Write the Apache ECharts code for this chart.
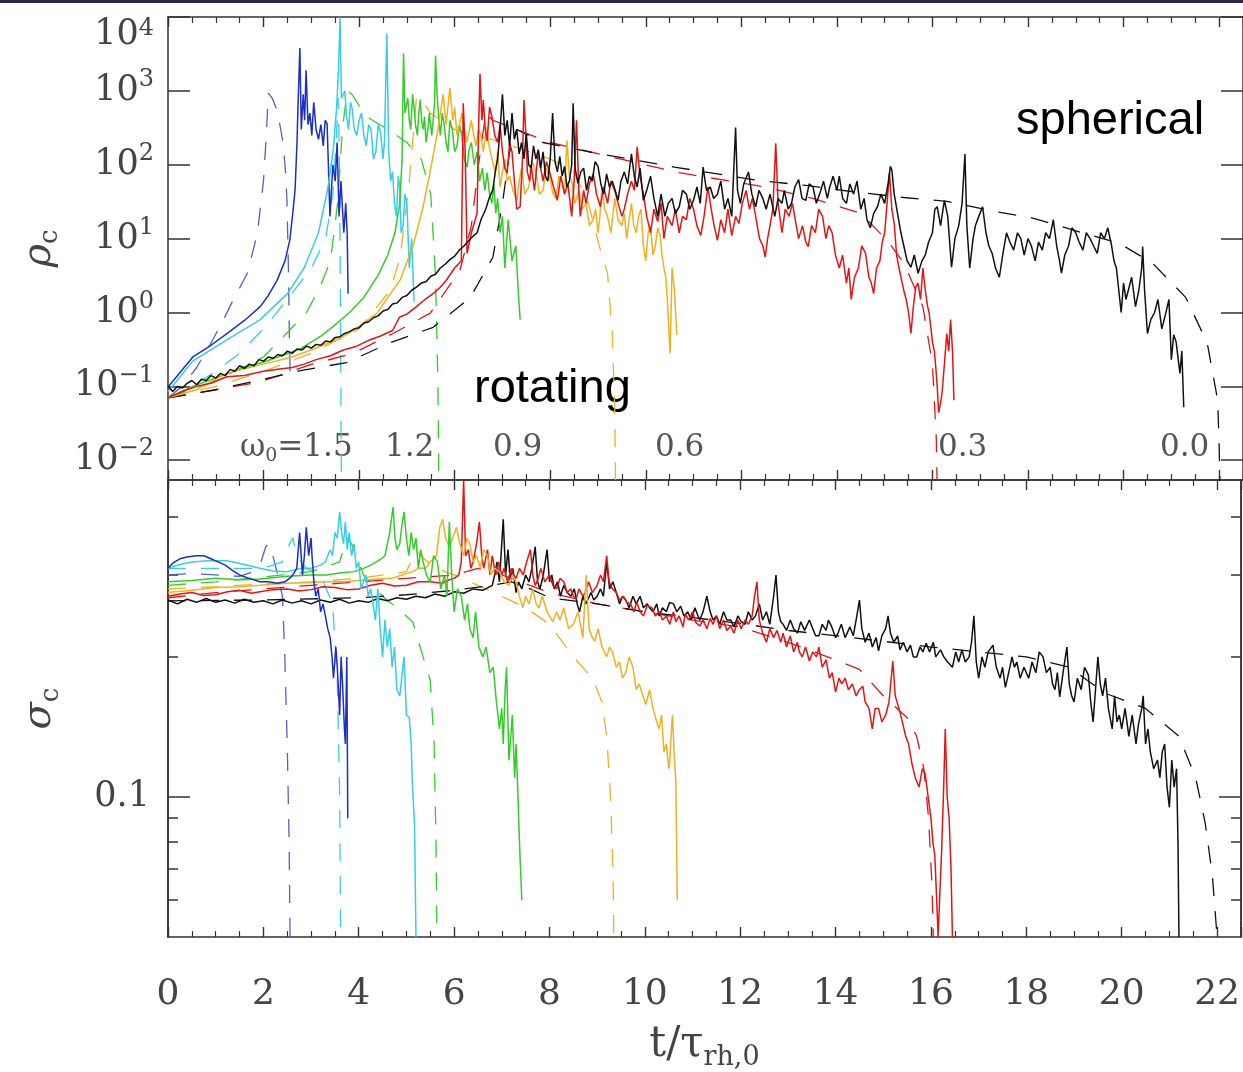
<!DOCTYPE html>
<html><head><meta charset="utf-8">
<script src="https://cdn.jsdelivr.net/npm/echarts@6/dist/echarts.min.js"></script>
<style>html,body{margin:0;padding:0;background:#fff}#c{width:1243px;height:1072px}</style>
</head><body><div id="c"></div>
<script>
// ---------- tick values ----------
const rhoTicks = [0.01, 0.1, 1, 10, 100, 1000, 10000];
const sigmaMajorTicks = [0.1];
const sigmaMinorTicks = [0.06, 0.07, 0.08, 0.09, 0.2, 0.3, 0.4];
const omegaLabels = ['1.5', '1.2', '0.9', '0.6', '0.3', '0.0'];

// ---------- top panel: central density rho_c (t, rho) ----------
const rhoW15 = [[0,0.098],[0.2,0.14],[0.52,0.25],[0.9,0.36],[1.24,0.52],[1.6,0.78],[1.93,1.2],[2.1,1.7],[2.28,2.7],[2.45,5],[2.55,9.6],[2.62,25],[2.66,46],[2.7,200],[2.72,600],[2.76,3800],[2.79,300],[2.83,900],[2.86,400],[2.89,1900],[2.93,350],[2.97,500],[3.01,250],[3.05,700],[3.1,300],[3.15,220],[3.2,350],[3.25,180],[3.29,400],[3.33,360],[3.39,20],[3.45,100],[3.5,60],[3.54,200],[3.58,20],[3.62,60],[3.68,12],[3.72,30],[3.75,12],[3.77,1.8]];
const rhoW15m = [[0,0.07],[0.3,0.1],[0.6,0.18],[0.94,0.43],[1.2,0.9],[1.37,1.5],[1.66,3.4],[1.87,11.7],[2.0,62],[2.06,270],[2.1,930],[2.18,800],[2.28,550],[2.36,300],[2.41,195],[2.46,80],[2.49,33],[2.52,4],[2.54,0.5],[2.56,0.12]];
const rhoW12 = [[0,0.085],[0.52,0.22],[1.24,0.43],[1.93,0.8],[2.5,1.8],[2.85,4],[3.15,12],[3.35,50],[3.46,160],[3.53,600],[3.57,2000],[3.6,10000],[3.63,800],[3.7,1000],[3.74,450],[3.78,300],[3.82,700],[3.85,600],[3.9,300],[3.95,250],[4.0,400],[4.05,500],[4.1,250],[4.15,180],[4.2,350],[4.25,300],[4.3,120],[4.35,150],[4.4,350],[4.45,270],[4.5,120],[4.53,200],[4.58,6000],[4.62,150],[4.66,60],[4.7,80],[4.74,30],[4.78,20],[4.82,70],[4.85,50],[4.88,12],[4.92,15],[4.96,40],[5.0,30],[5.05,4],[5.1,10],[5.15,1.4]];
const rhoW12m = [[0,0.07],[0.5,0.1],[1.0,0.16],[1.5,0.28],[2.0,0.6],[2.53,1.6],[3.0,4],[3.3,10],[3.45,40],[3.52,200],[3.56,800],[3.59,100],[3.61,1],[3.63,0.004]];
const rhoW09 = [[0,0.07],[0.52,0.1],[1.0,0.13],[1.5,0.17],[2.07,0.22],[2.76,0.32],[3.2,0.48],[3.46,0.65],[3.8,1.0],[4.1,1.6],[4.4,3.2],[4.6,6],[4.75,12],[4.85,30],[4.9,120],[4.93,3200],[4.96,500],[5.02,800],[5.05,400],[5.08,300],[5.12,900],[5.15,600],[5.18,350],[5.22,250],[5.25,500],[5.28,760],[5.31,400],[5.34,300],[5.37,450],[5.4,200],[5.44,300],[5.47,500],[5.52,250],[5.55,400],[5.58,700],[5.6,3000],[5.63,930],[5.67,400],[5.7,250],[5.74,500],[5.78,350],[5.82,200],[5.86,150],[5.9,400],[5.95,300],[6.0,150],[6.05,180],[6.1,350],[6.15,250],[6.2,120],[6.26,93],[6.3,160],[6.35,200],[6.41,100],[6.47,150],[6.52,60],[6.58,90],[6.63,45],[6.68,78],[6.73,40],[6.78,30],[6.82,55],[6.86,22],[6.9,35],[6.95,12],[7.0,20],[7.05,4],[7.12,18],[7.2,5],[7.28,8],[7.33,2],[7.37,0.8]];
const rhoW09m = [[0,0.07],[1.0,0.12],[2.0,0.25],[2.55,0.58],[2.9,1.0],[3.18,2.2],[3.4,5],[3.55,30],[3.65,300],[3.75,1000],[3.85,900],[4.15,450],[4.6,300],[5.0,200],[5.3,120],[5.5,40],[5.6,3],[5.65,0.1],[5.67,0.004]];
const rhoW06 = [[0,0.07],[0.6,0.09],[1.23,0.15],[2.0,0.2],[2.6,0.25],[3.1,0.33],[3.67,0.47],[4.0,0.65],[4.38,0.98],[4.6,1.6],[4.86,2.75],[5.13,8],[5.34,27],[5.5,90],[5.65,300],[5.76,900],[5.82,350],[5.9,1100],[5.96,400],[6.0,600],[6.05,250],[6.1,350],[6.15,500],[6.2,300],[6.25,200],[6.3,280],[6.35,400],[6.4,250],[6.45,180],[6.5,300],[6.55,250],[6.6,150],[6.67,320],[6.72,180],[6.78,120],[6.85,80],[6.9,150],[6.95,50],[7.0,80],[7.05,120],[7.1,60],[7.15,70],[7.22,45],[7.3,33],[7.35,60],[7.4,90],[7.47,40],[7.55,50],[7.62,110],[7.7,80],[7.77,40],[7.85,45],[7.92,90],[8.0,63],[8.06,40],[8.12,35],[8.18,70],[8.25,60],[8.3,40],[8.35,215],[8.4,70],[8.45,60],[8.52,30],[8.6,45],[8.67,25],[8.75,30],[8.82,15],[8.9,18],[8.95,25],[9.0,12],[9.04,20],[9.08,50],[9.14,25],[9.2,20],[9.27,12],[9.35,35],[9.42,18],[9.5,15],[9.55,22],[9.6,10],[9.65,18],[9.7,30],[9.75,15],[9.8,12],[9.85,20],[9.9,25],[9.95,8],[10.0,5],[10.05,12],[10.1,15],[10.15,6],[10.2,8],[10.25,14],[10.3,11],[10.34,6],[10.38,4],[10.42,3],[10.45,1.5],[10.51,0.28],[10.55,4],[10.6,2],[10.65,0.5]];
const rhoW06m = [[0,0.07],[1.0,0.1],[2.0,0.16],[3.0,0.28],[4.0,0.6],[4.44,1.35],[4.65,2],[4.86,5.6],[5.05,60],[5.2,800],[5.28,830],[5.49,500],[6.0,300],[7.0,200],[8.0,120],[8.5,80],[8.8,30],[9.05,7],[9.2,3.4],[9.3,0.5],[9.35,0.05],[9.37,0.004]];
const rhoW03 = [[0,0.07],[0.3,0.085],[0.6,0.1],[0.9,0.11],[1.23,0.135],[1.6,0.14],[2.0,0.16],[2.3,0.17],[2.6,0.18],[2.85,0.2],[3.1,0.23],[3.4,0.26],[3.67,0.31],[3.95,0.35],[4.2,0.42],[4.45,0.48],[4.7,0.57],[4.85,0.87],[5.0,0.95],[5.2,1.2],[5.38,1.5],[5.55,1.8],[5.7,2.2],[5.83,2.75],[6.0,4],[6.14,5],[6.18,680],[6.22,150],[6.26,6.3],[6.35,12],[6.47,22],[6.5,300],[6.53,1700],[6.57,400],[6.6,750],[6.64,300],[6.68,210],[6.73,600],[6.78,450],[6.84,250],[6.9,200],[6.95,350],[7.0,150],[7.05,90],[7.1,77],[7.15,200],[7.2,150],[7.25,60],[7.3,25],[7.37,27],[7.42,120],[7.45,750],[7.5,200],[7.52,80],[7.57,60],[7.6,100],[7.67,45],[7.75,150],[7.8,90],[7.85,60],[7.92,110],[8.0,75],[8.07,50],[8.15,33],[8.22,70],[8.3,40],[8.37,55],[8.45,20],[8.5,60],[8.55,400],[8.6,40],[8.63,20],[8.7,45],[8.75,30],[8.82,55],[8.9,75],[8.97,40],[9.05,27],[9.12,50],[9.2,30],[9.27,60],[9.35,45],[9.42,30],[9.5,20],[9.55,25],[9.62,40],[9.7,60],[9.76,45],[9.82,175],[9.88,70],[9.95,40],[10.02,20],[10.1,12],[10.17,25],[10.25,17],[10.32,30],[10.38,10],[10.45,20],[10.55,15],[10.62,25],[10.7,12],[10.77,20],[10.85,18],[10.92,35],[11.0,25],[11.07,15],[11.15,11],[11.22,20],[11.3,50],[11.37,25],[11.43,15],[11.5,9.5],[11.57,18],[11.65,12],[11.72,25],[11.8,11],[11.88,20],[11.95,16],[12.02,30],[12.1,45],[12.17,25],[12.23,35],[12.3,20],[12.38,10],[12.45,8],[12.5,5.6],[12.55,10],[12.6,15],[12.66,25],[12.72,195],[12.77,30],[12.85,12],[12.92,25],[13.0,20],[13.07,30],[13.15,15],[13.2,10],[13.28,15],[13.35,9],[13.4,7.8],[13.47,15],[13.55,12],[13.62,25],[13.7,20],[13.77,10],[13.83,15],[13.9,12],[13.97,6],[14.05,4],[14.12,6],[14.2,2.5],[14.25,4],[14.3,1.5],[14.37,3],[14.45,4],[14.52,8],[14.6,6.3],[14.67,3],[14.72,2.5],[14.77,1.8],[14.83,4],[14.9,5],[14.95,9],[15.0,12],[15.05,30],[15.1,78],[15.15,25],[15.2,16],[15.25,6],[15.3,4],[15.35,2.8],[15.4,2],[15.45,1.5],[15.5,1],[15.55,0.52],[15.6,1.2],[15.65,2.2],[15.7,2.5],[15.75,1.5],[15.8,4],[15.85,2],[15.9,1.2],[15.93,1],[15.97,0.6],[16.0,0.4],[16.04,0.3],[16.07,0.18],[16.1,0.1],[16.13,0.044],[16.17,0.06],[16.2,0.08],[16.25,0.2],[16.3,0.52],[16.34,0.3],[16.38,0.8],[16.42,0.3],[16.45,0.065]];
const rhoW03m = [[0,0.07],[1.0,0.09],[1.93,0.115],[2.97,0.195],[3.87,0.28],[4.71,0.52],[5.49,0.98],[6.11,3.7],[6.35,15],[6.5,100],[6.65,500],[6.8,400],[8.0,200],[10.7,78],[12.5,50],[13.5,35],[14.5,22],[15.05,9.5],[15.4,4.7],[15.8,1.2],[16.0,0.2],[16.08,0.02],[16.1,0.004]];
const rhoW00 = [[0,0.1],[0.1,0.085],[0.2,0.1],[0.3,0.095],[0.4,0.11],[0.5,0.12],[0.6,0.105],[0.7,0.125],[0.8,0.12],[0.9,0.14],[1.0,0.13],[1.1,0.15],[1.2,0.14],[1.3,0.17],[1.4,0.16],[1.5,0.19],[1.6,0.175],[1.7,0.2],[1.8,0.19],[1.9,0.23],[2.0,0.22],[2.1,0.25],[2.2,0.24],[2.3,0.27],[2.4,0.26],[2.5,0.3],[2.6,0.28],[2.7,0.32],[2.8,0.31],[2.9,0.35],[3.0,0.33],[3.1,0.37],[3.2,0.36],[3.3,0.41],[3.4,0.4],[3.5,0.46],[3.6,0.47],[3.7,0.52],[3.8,0.55],[3.9,0.6],[4.0,0.62],[4.1,0.72],[4.2,0.75],[4.3,0.85],[4.4,0.9],[4.5,1.05],[4.6,1.1],[4.7,1.3],[4.8,1.35],[4.9,1.6],[5.0,1.7],[5.1,2.0],[5.2,2.2],[5.3,2.5],[5.4,2.6],[5.5,3.1],[5.6,3.3],[5.7,4],[5.8,4.5],[5.9,5.2],[6.0,5.8],[6.1,7],[6.2,8],[6.3,9.5],[6.4,11],[6.47,12],[6.55,18],[6.65,25],[6.72,35],[6.8,46],[6.85,80],[6.9,120],[6.95,300],[7.0,900],[7.05,250],[7.1,400],[7.15,180],[7.2,500],[7.25,220],[7.3,300],[7.35,140],[7.4,200],[7.45,120],[7.5,260],[7.55,100],[7.6,90],[7.65,180],[7.7,120],[7.75,160],[7.8,90],[7.85,150],[7.9,70],[7.95,60],[8.0,120],[8.05,500],[8.1,110],[8.15,80],[8.2,130],[8.25,70],[8.3,95],[8.35,50],[8.4,60],[8.45,100],[8.48,680],[8.52,90],[8.58,56],[8.64,80],[8.7,90],[8.76,45],[8.82,70],[8.88,60],[8.94,110],[9.0,95],[9.06,55],[9.12,40],[9.18,75],[9.24,50],[9.3,60],[9.36,45],[9.42,33],[9.48,60],[9.55,80],[9.62,55],[9.7,140],[9.76,70],[9.82,50],[9.88,90],[9.95,33],[10.02,45],[10.1,70],[10.17,35],[10.25,20],[10.32,40],[10.4,20],[10.47,30],[10.55,35],[10.62,22],[10.7,27],[10.77,45],[10.85,40],[10.92,25],[11.0,33],[11.07,50],[11.14,30],[11.2,93],[11.27,45],[11.35,50],[11.42,35],[11.5,40],[11.57,60],[11.65,25],[11.72,35],[11.8,20],[11.88,320],[11.92,45],[11.98,30],[12.05,55],[12.15,80],[12.22,40],[12.3,27],[12.37,45],[12.45,35],[12.52,25],[12.6,40],[12.7,20],[12.77,35],[12.85,30],[12.9,45],[12.98,25],[13.05,30],[13.12,50],[13.2,63],[13.27,35],[13.35,33],[13.42,55],[13.5,50],[13.57,30],[13.65,42],[13.72,60],[13.8,35],[13.85,50],[13.92,70],[14.0,45],[14.05,70],[14.12,35],[14.2,30],[14.27,55],[14.35,40],[14.42,60],[14.5,25],[14.57,35],[14.63,18],[14.7,14],[14.77,22],[14.85,27],[14.92,40],[15.0,30],[15.07,55],[15.12,95],[15.15,85],[15.2,40],[15.28,20],[15.34,12],[15.4,8],[15.47,5],[15.55,4.1],[15.62,6],[15.7,3.4],[15.78,5],[15.85,6],[15.92,9],[16.0,12],[16.05,25],[16.1,27],[16.17,15],[16.25,33],[16.32,20],[16.4,4.1],[16.47,10],[16.55,15],[16.62,30],[16.68,140],[16.72,15],[16.78,4],[16.85,10],[16.9,15],[16.97,20],[17.05,27],[17.12,12],[17.18,8],[17.25,6.3],[17.32,4],[17.4,3],[17.47,6],[17.55,12],[17.62,9],[17.7,7],[17.78,12],[17.85,10],[17.92,6],[18.0,10],[18.07,8],[18.15,5],[18.22,9],[18.3,7],[18.37,12],[18.45,10],[18.53,18],[18.6,8],[18.66,5],[18.7,3.4],[18.77,6],[18.85,8],[18.92,14],[19.0,12],[19.07,9],[19.15,7],[19.22,12],[19.3,10],[19.37,8],[19.45,6.3],[19.52,12],[19.6,10],[19.67,14],[19.75,8],[19.8,5],[19.85,4],[19.9,2],[19.95,1],[20.0,2.5],[20.05,1.5],[20.1,2],[20.17,3],[20.25,1.2],[20.32,2],[20.38,4],[20.4,7.8],[20.44,2],[20.5,0.52],[20.57,0.8],[20.65,1],[20.72,1.5],[20.8,0.6],[20.87,0.9],[20.95,1.5],[21.0,0.23],[21.05,0.5],[21.1,0.4],[21.18,0.15],[21.22,0.3],[21.26,0.052]];
const rhoW00m = [[0,0.07],[1.0,0.09],[2.0,0.125],[2.83,0.166],[3.74,0.21],[4.65,0.39],[5.55,0.63],[6.33,1.6],[6.8,5.6],[7.0,30],[7.15,150],[7.3,300],[7.85,200],[8.8,150],[10.6,93],[12.3,62],[13.4,52],[14.35,43],[15.4,36],[16.3,32],[17.2,24],[18.1,19],[18.95,13],[19.9,8.7],[20.6,4.7],[21.3,1.6],[21.75,0.39],[21.97,0.065],[22.0,0.017],[22.02,0.004]];

// ---------- bottom panel: central velocity dispersion sigma_c (t, sigma) ----------
const sigW15 = [[0,0.31],[0.1,0.318],[0.25,0.325],[0.4,0.328],[0.6,0.33],[0.75,0.33],[0.9,0.325],[1.05,0.32],[1.2,0.315],[1.35,0.307],[1.5,0.3],[1.7,0.295],[1.93,0.29],[2.1,0.29],[2.3,0.288],[2.45,0.29],[2.55,0.295],[2.62,0.3],[2.7,0.31],[2.76,0.37],[2.82,0.3],[2.86,0.33],[2.9,0.38],[2.95,0.33],[3.0,0.36],[3.02,0.33],[3.06,0.29],[3.1,0.27],[3.15,0.28],[3.2,0.25],[3.25,0.26],[3.3,0.245],[3.35,0.23],[3.4,0.22],[3.44,0.2],[3.47,0.18],[3.52,0.21],[3.55,0.19],[3.6,0.15],[3.63,0.2],[3.66,0.175],[3.7,0.14],[3.72,0.13],[3.75,0.2],[3.77,0.09]];
const sigW15m = [[0,0.3],[0.5,0.302],[1.0,0.3],[1.5,0.298],[1.8,0.305],[1.95,0.32],[2.05,0.345],[2.12,0.35],[2.2,0.33],[2.3,0.3],[2.4,0.27],[2.45,0.2],[2.5,0.13],[2.54,0.08],[2.56,0.05]];
const sigW12 = [[0,0.31],[0.25,0.316],[0.5,0.32],[0.85,0.322],[1.24,0.322],[1.6,0.316],[1.93,0.31],[2.2,0.306],[2.5,0.305],[2.8,0.31],[3.0,0.31],[3.2,0.315],[3.3,0.32],[3.4,0.34],[3.45,0.33],[3.5,0.37],[3.55,0.36],[3.6,0.41],[3.64,0.37],[3.68,0.35],[3.72,0.39],[3.76,0.34],[3.8,0.37],[3.85,0.33],[3.9,0.35],[3.95,0.31],[4.0,0.32],[4.05,0.28],[4.1,0.29],[4.15,0.3],[4.2,0.27],[4.25,0.28],[4.3,0.26],[4.35,0.24],[4.4,0.28],[4.45,0.23],[4.5,0.2],[4.55,0.24],[4.6,0.21],[4.65,0.23],[4.7,0.19],[4.75,0.21],[4.8,0.17],[4.86,0.165],[4.9,0.18],[4.95,0.2],[5.0,0.15],[5.06,0.148],[5.1,0.13],[5.12,0.11],[5.17,0.087],[5.2,0.05]];
const sigW12m = [[0,0.31],[1.0,0.31],[2.0,0.31],[2.4,0.32],[2.55,0.35],[2.62,0.36],[2.7,0.33],[2.9,0.31],[3.2,0.3],[3.45,0.26],[3.55,0.18],[3.6,0.1],[3.62,0.05]];
const sigW09 = [[0,0.29],[0.5,0.292],[1.0,0.295],[1.5,0.293],[1.93,0.294],[2.5,0.298],[3.0,0.3],[3.33,0.3],[3.6,0.303],[3.9,0.305],[4.1,0.31],[4.25,0.315],[4.37,0.32],[4.47,0.325],[4.55,0.33],[4.6,0.35],[4.65,0.37],[4.72,0.42],[4.76,0.36],[4.8,0.34],[4.86,0.35],[4.9,0.38],[4.95,0.41],[5.0,0.36],[5.05,0.33],[5.1,0.37],[5.15,0.34],[5.2,0.36],[5.25,0.31],[5.3,0.34],[5.35,0.32],[5.42,0.3],[5.5,0.29],[5.57,0.33],[5.65,0.32],[5.72,0.28],[5.8,0.3],[5.85,0.27],[5.9,0.39],[5.95,0.3],[6.0,0.25],[6.07,0.28],[6.15,0.27],[6.22,0.24],[6.28,0.26],[6.33,0.23],[6.4,0.22],[6.45,0.25],[6.52,0.21],[6.6,0.2],[6.67,0.21],[6.75,0.185],[6.82,0.19],[6.88,0.163],[6.95,0.14],[7.0,0.155],[7.03,0.13],[7.07,0.17],[7.1,0.19],[7.15,0.12],[7.2,0.14],[7.22,0.15],[7.27,0.11],[7.3,0.13],[7.34,0.1],[7.37,0.08],[7.42,0.06]];
const sigW09m = [[0,0.285],[1.0,0.29],[2.0,0.297],[3.0,0.305],[3.6,0.32],[3.75,0.36],[3.85,0.35],[4.1,0.3],[4.5,0.27],[4.9,0.25],[5.13,0.238],[5.35,0.2],[5.5,0.178],[5.58,0.13],[5.62,0.08],[5.64,0.05]];
const sigW06 = [[0,0.275],[0.5,0.278],[1.0,0.282],[1.5,0.283],[1.93,0.285],[2.5,0.288],[3.0,0.289],[3.33,0.29],[3.7,0.29],[4.0,0.292],[4.4,0.294],[4.7,0.295],[4.9,0.3],[5.13,0.305],[5.25,0.31],[5.4,0.31],[5.5,0.32],[5.63,0.33],[5.7,0.38],[5.76,0.395],[5.82,0.36],[5.9,0.345],[5.97,0.36],[6.05,0.38],[6.12,0.35],[6.2,0.33],[6.27,0.36],[6.33,0.35],[6.4,0.32],[6.47,0.33],[6.55,0.31],[6.62,0.34],[6.7,0.33],[6.77,0.3],[6.85,0.31],[6.95,0.305],[7.05,0.29],[7.15,0.285],[7.22,0.3],[7.3,0.29],[7.37,0.27],[7.44,0.255],[7.5,0.27],[7.57,0.26],[7.65,0.28],[7.72,0.26],[7.78,0.255],[7.85,0.27],[7.95,0.25],[8.07,0.238],[8.15,0.25],[8.22,0.24],[8.3,0.255],[8.4,0.23],[8.5,0.235],[8.6,0.25],[8.7,0.22],[8.77,0.3],[8.83,0.23],[8.9,0.22],[8.95,0.216],[9.02,0.23],[9.1,0.21],[9.2,0.2],[9.26,0.21],[9.32,0.205],[9.4,0.19],[9.47,0.195],[9.53,0.18],[9.6,0.185],[9.67,0.2],[9.75,0.19],[9.82,0.17],[9.88,0.175],[9.95,0.166],[10.02,0.158],[10.1,0.17],[10.17,0.155],[10.24,0.146],[10.3,0.14],[10.35,0.15],[10.4,0.125],[10.45,0.13],[10.5,0.115],[10.52,0.118],[10.55,0.135],[10.58,0.15],[10.62,0.12],[10.65,0.108],[10.68,0.06]];
const sigW06m = [[0,0.28],[1.0,0.283],[2.0,0.287],[3.0,0.29],[4.0,0.295],[5.0,0.305],[5.2,0.34],[5.3,0.33],[5.6,0.31],[6.0,0.3],[6.5,0.285],[7.0,0.27],[7.5,0.255],[8.0,0.235],[8.5,0.2],[8.9,0.18],[9.1,0.16],[9.2,0.135],[9.28,0.1],[9.33,0.07],[9.35,0.05]];
const sigW03 = [[0,0.27],[0.25,0.273],[0.5,0.275],[0.75,0.271],[1.0,0.272],[1.25,0.276],[1.5,0.278],[1.75,0.274],[1.93,0.276],[2.2,0.279],[2.5,0.28],[2.75,0.277],[3.0,0.279],[3.25,0.283],[3.5,0.282],[3.75,0.279],[4.0,0.28],[4.25,0.285],[4.5,0.288],[4.75,0.284],[5.0,0.285],[5.25,0.29],[5.5,0.29],[5.75,0.288],[5.9,0.293],[6.0,0.295],[6.1,0.3],[6.15,0.32],[6.2,0.48],[6.24,0.33],[6.3,0.34],[6.35,0.31],[6.4,0.32],[6.47,0.35],[6.53,0.39],[6.58,0.33],[6.62,0.31],[6.7,0.34],[6.75,0.3],[6.8,0.33],[6.87,0.3],[6.93,0.32],[7.0,0.3],[7.05,0.31],[7.12,0.29],[7.2,0.31],[7.25,0.3],[7.3,0.295],[7.37,0.31],[7.45,0.3],[7.52,0.32],[7.6,0.34],[7.65,0.3],[7.7,0.285],[7.75,0.292],[7.82,0.31],[7.9,0.29],[8.0,0.3],[8.07,0.285],[8.15,0.28],[8.22,0.295],[8.3,0.29],[8.37,0.275],[8.45,0.28],[8.5,0.27],[8.56,0.267],[8.62,0.28],[8.7,0.27],[8.75,0.275],[8.82,0.29],[8.9,0.275],[9.0,0.285],[9.07,0.3],[9.13,0.29],[9.2,0.33],[9.25,0.29],[9.32,0.28],[9.4,0.275],[9.47,0.265],[9.55,0.27],[9.62,0.262],[9.7,0.26],[9.77,0.25],[9.83,0.262],[9.9,0.25],[9.97,0.245],[10.05,0.258],[10.15,0.255],[10.22,0.245],[10.3,0.25],[10.37,0.24],[10.45,0.245],[10.52,0.235],[10.6,0.25],[10.65,0.238],[10.72,0.245],[10.8,0.232],[10.85,0.247],[10.92,0.24],[11.0,0.25],[11.07,0.237],[11.15,0.233],[11.22,0.24],[11.3,0.23],[11.37,0.242],[11.43,0.235],[11.5,0.245],[11.57,0.23],[11.65,0.24],[11.72,0.228],[11.8,0.233],[11.87,0.225],[11.95,0.24],[12.02,0.23],[12.1,0.24],[12.17,0.235],[12.25,0.245],[12.3,0.27],[12.35,0.29],[12.4,0.24],[12.47,0.225],[12.55,0.215],[12.62,0.23],[12.7,0.22],[12.77,0.228],[12.85,0.215],[12.9,0.225],[12.97,0.21],[13.05,0.222],[13.12,0.205],[13.2,0.215],[13.24,0.205],[13.3,0.2],[13.37,0.21],[13.45,0.196],[13.52,0.205],[13.6,0.2],[13.65,0.21],[13.72,0.19],[13.8,0.197],[13.87,0.18],[13.93,0.185],[14.0,0.168],[14.07,0.18],[14.13,0.175],[14.2,0.18],[14.27,0.17],[14.35,0.175],[14.43,0.165],[14.5,0.17],[14.57,0.173],[14.62,0.16],[14.7,0.155],[14.77,0.14],[14.83,0.155],[14.9,0.155],[14.97,0.145],[15.05,0.15],[15.12,0.16],[15.2,0.196],[15.25,0.165],[15.32,0.156],[15.4,0.145],[15.47,0.135],[15.53,0.13],[15.6,0.118],[15.67,0.11],[15.75,0.105],[15.82,0.115],[15.88,0.112],[15.94,0.1],[16.0,0.09],[16.04,0.08],[16.08,0.075],[16.12,0.06],[16.15,0.05],[16.18,0.06],[16.22,0.075],[16.26,0.1],[16.3,0.14],[16.34,0.1],[16.38,0.09],[16.42,0.07],[16.45,0.05]];
const sigW03m = [[0,0.268],[1,0.275],[2,0.28],[3,0.285],[4,0.29],[5,0.295],[6,0.3],[6.5,0.31],[7,0.3],[8,0.275],[9,0.26],[10,0.25],[11,0.24],[12,0.232],[13,0.215],[14,0.197],[14.5,0.188],[15,0.165],[15.5,0.148],[15.7,0.135],[15.85,0.115],[15.95,0.09],[16.02,0.065],[16.05,0.05]];
const sigW00 = [[0,0.265],[0.2,0.26],[0.4,0.266],[0.6,0.262],[0.8,0.267],[1.0,0.262],[1.2,0.265],[1.4,0.261],[1.6,0.266],[1.8,0.262],[2.0,0.264],[2.2,0.26],[2.4,0.265],[2.6,0.261],[2.8,0.264],[3.0,0.26],[3.2,0.265],[3.4,0.262],[3.6,0.266],[3.8,0.261],[4.0,0.264],[4.2,0.262],[4.4,0.267],[4.6,0.264],[4.8,0.268],[5.0,0.266],[5.2,0.27],[5.4,0.268],[5.6,0.273],[5.8,0.27],[6.0,0.276],[6.2,0.274],[6.4,0.28],[6.6,0.278],[6.8,0.285],[6.85,0.3],[6.9,0.32],[6.95,0.29],[7.03,0.395],[7.08,0.3],[7.13,0.34],[7.18,0.29],[7.23,0.31],[7.3,0.275],[7.35,0.29],[7.42,0.28],[7.5,0.3],[7.57,0.29],[7.63,0.31],[7.7,0.345],[7.75,0.29],[7.8,0.28],[7.87,0.3],[7.95,0.34],[8.0,0.29],[8.05,0.3],[8.1,0.28],[8.17,0.29],[8.23,0.27],[8.3,0.285],[8.37,0.275],[8.45,0.27],[8.52,0.28],[8.58,0.26],[8.63,0.25],[8.7,0.27],[8.76,0.26],[8.8,0.265],[8.87,0.275],[8.93,0.265],[9.0,0.27],[9.07,0.28],[9.13,0.27],[9.2,0.32],[9.26,0.28],[9.33,0.29],[9.4,0.275],[9.47,0.26],[9.53,0.27],[9.6,0.265],[9.67,0.255],[9.75,0.27],[9.82,0.26],[9.9,0.27],[9.97,0.255],[10.05,0.26],[10.1,0.255],[10.17,0.25],[10.25,0.26],[10.3,0.245],[10.37,0.255],[10.45,0.25],[10.52,0.262],[10.6,0.26],[10.67,0.25],[10.75,0.257],[10.82,0.245],[10.9,0.25],[10.97,0.24],[11.05,0.255],[11.1,0.247],[11.15,0.24],[11.22,0.25],[11.3,0.27],[11.37,0.25],[11.43,0.24],[11.5,0.245],[11.57,0.235],[11.65,0.25],[11.72,0.24],[11.8,0.24],[11.87,0.232],[11.95,0.245],[12.02,0.238],[12.1,0.235],[12.17,0.25],[12.25,0.24],[12.32,0.245],[12.4,0.26],[12.47,0.24],[12.55,0.25],[12.62,0.235],[12.7,0.27],[12.75,0.3],[12.8,0.25],[12.85,0.238],[12.9,0.235],[12.97,0.228],[13.05,0.24],[13.12,0.23],[13.2,0.225],[13.27,0.238],[13.35,0.228],[13.45,0.24],[13.52,0.23],[13.58,0.222],[13.65,0.222],[13.72,0.235],[13.8,0.228],[13.85,0.24],[13.92,0.232],[14.0,0.22],[14.05,0.225],[14.12,0.235],[14.2,0.22],[14.3,0.232],[14.37,0.222],[14.43,0.24],[14.5,0.265],[14.55,0.23],[14.62,0.215],[14.7,0.225],[14.77,0.21],[14.85,0.22],[14.9,0.206],[14.97,0.222],[15.05,0.23],[15.1,0.245],[15.15,0.225],[15.22,0.215],[15.3,0.222],[15.35,0.207],[15.42,0.215],[15.5,0.205],[15.57,0.212],[15.63,0.2],[15.7,0.2],[15.77,0.21],[15.83,0.205],[15.9,0.214],[15.97,0.205],[16.05,0.215],[16.1,0.2],[16.2,0.207],[16.27,0.2],[16.35,0.195],[16.45,0.19],[16.52,0.205],[16.58,0.195],[16.65,0.207],[16.72,0.195],[16.8,0.2],[16.85,0.215],[16.9,0.245],[16.95,0.195],[17.0,0.18],[17.07,0.2],[17.13,0.19],[17.2,0.205],[17.3,0.212],[17.37,0.19],[17.45,0.18],[17.5,0.19],[17.56,0.172],[17.63,0.185],[17.7,0.2],[17.75,0.19],[17.8,0.195],[17.87,0.18],[17.95,0.19],[18.05,0.18],[18.12,0.195],[18.2,0.185],[18.27,0.205],[18.35,0.2],[18.42,0.185],[18.5,0.19],[18.55,0.175],[18.6,0.17],[18.65,0.185],[18.7,0.164],[18.77,0.185],[18.85,0.21],[18.9,0.175],[18.95,0.165],[19.0,0.16],[19.07,0.18],[19.15,0.17],[19.22,0.19],[19.3,0.183],[19.35,0.16],[19.4,0.145],[19.45,0.17],[19.5,0.2],[19.55,0.175],[19.6,0.165],[19.66,0.18],[19.72,0.155],[19.8,0.14],[19.85,0.165],[19.9,0.145],[19.95,0.15],[20.0,0.14],[20.07,0.155],[20.15,0.135],[20.22,0.15],[20.3,0.13],[20.35,0.143],[20.42,0.155],[20.45,0.165],[20.5,0.13],[20.55,0.14],[20.6,0.125],[20.67,0.115],[20.75,0.12],[20.8,0.11],[20.85,0.125],[20.9,0.13],[20.95,0.105],[21.0,0.095],[21.05,0.12],[21.1,0.105],[21.15,0.115],[21.18,0.08],[21.2,0.05]];
const sigW00m = [[0,0.264],[2,0.265],[4,0.268],[5,0.272],[6,0.278],[6.8,0.285],[7.2,0.29],[7.6,0.28],[8,0.268],[9,0.26],[10,0.25],[11,0.243],[12,0.236],[13,0.228],[14.35,0.22],[16,0.21],[17,0.205],[18,0.2],[18.9,0.19],[19.66,0.167],[20.5,0.155],[21.2,0.135],[21.55,0.11],[21.75,0.088],[21.9,0.068],[22.0,0.05]];

// ---------- styling ----------
const COL = { w15:'#1b2ec6', w15m:'#5561bd', w12:'#36cde6', w09:'#33cc2a', w06:'#f0b020', w03:'#e31414', w00:'#111111' };
const AX = '#333';
const SERIF = '"DejaVu Serif", serif';
const DASH = [18, 15];

function mk(data, color, dashed, panel) {
  return {
    type: 'line', data: data, xAxisIndex: panel ? 2 : 0, yAxisIndex: panel ? 2 : 0,
    showSymbol: false, symbol: 'none', silent: true, clip: true,
    lineStyle: { color: color, width: dashed ? 1.3 : 1.5, type: dashed ? DASH : 'solid' }
  };
}
function xAx(grid, pos, withLabels) {
  const a = {
    type: 'value', gridIndex: grid, position: pos, min: 0, max: 22.5, interval: 2,
    axisLine: { show: true, onZero: false, lineStyle: { color: AX, width: 1.5 } },
    axisTick: { show: true, inside: true, length: 10, lineStyle: { color: AX, width: 1.4 } },
    minorTick: { show: true, splitNumber: 4, length: 6, lineStyle: { color: AX, width: 1.2 } },
    splitLine: { show: false }, minorSplitLine: { show: false },
    axisLabel: { show: false }
  };
  if (withLabels) {
    a.axisLabel = { show: true, margin: 40, fontFamily: SERIF, fontSize: 36, color: '#444', showMaxLabel: false };
    a.name = '{t|t/τ}{s|rh,0}';
    a.nameLocation = 'middle';
    a.nameGap = 82;
    a.nameTextStyle = { rich: {
      t: { fontFamily: SERIF, fontSize: 42, color: '#444', lineHeight: 52 },
      s: { fontFamily: SERIF, fontSize: 27, color: '#444', lineHeight: 27, verticalAlign: 'bottom' }
    } };
  }
  return a;
}
function expLabel(v) {
  const e = Math.round(Math.log10(v));
  const s = e < 0 ? '\u2212' + (-e) : '' + e;
  return '{b|10}{s|' + s + '}';
}
const richExp = {
  b: { fontFamily: SERIF, fontSize: 35, color: '#444', lineHeight: 46 },
  s: { fontFamily: SERIF, fontSize: 24, color: '#444', lineHeight: 24, verticalAlign: 'top' }
};
const richExpTop = {
  b: { fontFamily: SERIF, fontSize: 35, color: '#444', lineHeight: 36 },
  s: { fontFamily: SERIF, fontSize: 24, color: '#444', lineHeight: 20, verticalAlign: 'top' }
};
function yLog(grid, pos, min, max, tickVals, tickLen, labelVals, extra) {
  const a = {
    type: 'log', logBase: 10, gridIndex: grid, position: pos, min: min, max: max,
    axisLine: { show: true, onZero: false, lineStyle: { color: AX, width: 1.5 } },
    axisTick: { show: tickVals.length > 0, inside: true, length: tickLen, customValues: tickVals, lineStyle: { color: AX, width: 1.5 } },
    minorTick: { show: false }, splitLine: { show: false }, minorSplitLine: { show: false },
    axisLabel: { show: false }
  };
  if (labelVals) a.axisLabel = Object.assign({ show: true, customValues: labelVals }, extra || {});
  return a;
}
const nameRich = () => ({ rich: {
  r: { fontFamily: SERIF, fontSize: 40, fontStyle: 'italic', color: '#444', lineHeight: 48 },
  c: { fontFamily: SERIF, fontSize: 26, color: '#444', lineHeight: 26, verticalAlign: 'bottom' } } });

const yAxes = [
  Object.assign(yLog(0, 'left', 0.0054, 10000, rhoTicks, 22, rhoTicks.filter(v => v < 5000),
      { margin: 14, formatter: expLabel, rich: richExp }),
    { name: '{r|ρ}{c|c}', nameLocation: 'middle', nameGap: 104, nameRotate: 90, nameTextStyle: nameRich() }),
  yLog(0, 'right', 0.0054, 10000, rhoTicks, 22, null),
  Object.assign(yLog(1, 'left', 0.05, 0.48, sigmaMajorTicks, 22, sigmaMajorTicks,
      { margin: 18, fontFamily: SERIF, fontSize: 35, color: '#444', formatter: v => '0.1' }),
    { name: '{r|σ}{c|c}', nameLocation: 'middle', nameGap: 104, nameRotate: 90, nameTextStyle: nameRich() }),
  yLog(1, 'left', 0.05, 0.48, sigmaMinorTicks, 10, null),
  yLog(1, 'right', 0.05, 0.48, sigmaMajorTicks, 22, null),
  yLog(1, 'right', 0.05, 0.48, sigmaMinorTicks, 10, null),
  Object.assign(yLog(0, 'left', 0.0054, 10000, [], 0, [10000],
      { margin: 14, formatter: expLabel, rich: richExpTop, verticalAlign: 'top' }),
    { axisLine: { show: false } })
];

const topSeries = [
  mk(rhoW15m, COL.w15m, true, 0), mk(rhoW12m, COL.w12, true, 0), mk(rhoW09m, COL.w09, true, 0),
  mk(rhoW06m, COL.w06, true, 0), mk(rhoW03m, COL.w03, true, 0), mk(rhoW00m, COL.w00, true, 0),
  mk(rhoW15, COL.w15, false, 0), mk(rhoW12, COL.w12, false, 0), mk(rhoW09, COL.w09, false, 0),
  mk(rhoW06, COL.w06, false, 0), mk(rhoW03, COL.w03, false, 0), mk(rhoW00, COL.w00, false, 0)
];
const botSeries = [
  mk(sigW15m, COL.w15m, true, 1), mk(sigW12m, COL.w12, true, 1), mk(sigW09m, COL.w09, true, 1),
  mk(sigW06m, COL.w06, true, 1), mk(sigW03m, COL.w03, true, 1), mk(sigW00m, COL.w00, true, 1),
  mk(sigW00, COL.w00, false, 1), mk(sigW03, COL.w03, false, 1), mk(sigW06, COL.w06, false, 1),
  mk(sigW09, COL.w09, false, 1), mk(sigW12, COL.w12, false, 1), mk(sigW15, COL.w15, false, 1)
];

const omegaX = [240, 385, 493, 655, 938, 1160];
const labelStyle = { fontFamily: SERIF, fontSize: 31, fill: '#555', verticalAlign: 'middle' };
const SANS = '"Liberation Sans", Arial, sans-serif';
const graphics = [
  { type: 'rect', shape: { x: 0, y: 0, width: 1243, height: 3 }, style: { fill: '#262a4e' } },
  { type: 'text', x: 1016, y: 121, style: { text: 'spherical', fontFamily: SANS, fontSize: 47, fill: '#000', verticalAlign: 'middle' } },
  { type: 'text', x: 474, y: 389, style: { text: 'rotating', fontFamily: SANS, fontSize: 47, fill: '#000', verticalAlign: 'middle' } }
];
omegaLabels.forEach((t, i) => {
  if (i === 0) {
    graphics.push({ type: 'text', x: omegaX[i], y: 448, style: Object.assign({}, labelStyle, {
      text: '{w|ω}{z|0}{n|=' + t + '}',
      rich: { w: { fontFamily: SERIF, fontSize: 31, fill: '#555', lineHeight: 36 },
              z: { fontFamily: SERIF, fontSize: 19, fill: '#555', lineHeight: 19, verticalAlign: 'bottom' },
              n: { fontFamily: SERIF, fontSize: 31, fill: '#555', lineHeight: 36 } } }) });
  } else {
    graphics.push({ type: 'text', x: omegaX[i], y: 448, style: Object.assign({}, labelStyle, { text: t }) });
  }
});

const chart = echarts.init(document.getElementById('c'), null, { renderer: 'canvas' });
chart.setOption({
  animation: false,
  backgroundColor: '#fff',
  grid: [
    { left: 168, top: 17, width: 1075, height: 463 },
    { left: 168, top: 480, width: 1075, height: 463 }
  ],
  xAxis: [xAx(0, 'bottom', false), xAx(0, 'top', false), xAx(1, 'bottom', true), xAx(1, 'top', false)],
  yAxis: yAxes,
  series: topSeries.concat(botSeries),
  graphic: graphics
});
</script></body></html>
